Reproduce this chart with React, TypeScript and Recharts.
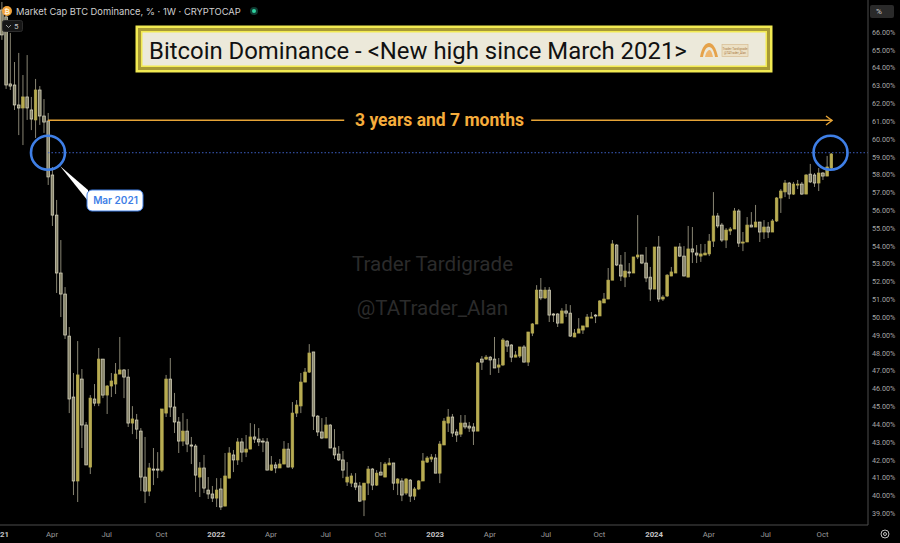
import React from "react";
import { ComposedChart, Bar, XAxis, YAxis, ReferenceLine, ReferenceDot } from "recharts";

// Weekly candles: [high, bodyTop, bodyBottom, low, rising(1) / falling(0)]
const weeks2021 = [
[67.7,67.25,65.85,65.57,0],[67.14,66.86,63.04,62.82,0],[65.96,63.1,62.98,62.76,0],[64.33,63.04,61.92,61.64,0],[64.84,61.92,61.75,60.23,0],
[63.6,62.37,61.75,59.67,1],[64.72,62.37,61.75,61.08,0],[62.37,61.64,61.13,60.51,0],[63.38,62.76,61.08,60.07,1],[62.98,62.76,61.3,60.8,0],
[62.25,61.3,60.96,60.35,0],[61.47,61.02,57.88,57.43,0],[58.44,57.99,55.74,55.13,0],[56.59,55.74,52.49,51.37,0],[54.34,52.49,51.31,50.02,0],
[51.7,51.31,49.01,48.79,0],[49.46,48.95,45.42,44.63,0],[46.88,45.53,40.82,40.03,0],[48.67,46.77,40.82,39.64,1],[47.1,46.54,43.96,42.67,0],
[44.13,43.96,41.72,41.72,0],[45.64,45.47,41.6,41.21,1],[46.26,45.42,45.19,45.02,0],[48.28,47.66,45.19,45.02,1],[47.66,47.66,45.64,45.47,0],
[46.2,46.15,45.64,44.58,1],[46.88,46.43,46.15,45.53,1],[47.44,46.82,46.26,45.7,1],[48.9,47.05,46.82,46.82,1],[47.1,47.05,46.65,45.47,0],
[47.1,46.65,44.07,43.85,0],[45.02,44.3,44.07,43.45,1],[44.58,44.24,43.73,43.17,0],[43.79,43.62,41.04,40.25,0],[43.29,41.04,40.25,39.58,0],
[41.83,41.55,40.25,39.97,1],[42.67,41.49,41.43,40.59,0],[42.44,41.49,41.43,40.98,0],[44.86,44.86,41.43,41.32,1],[46.77,46.54,44.63,44.41,1],
[47.72,46.54,44.97,44.41,0],[45.76,44.97,44.13,43.51,0],[44.41,44.13,43.06,42.39,0],[44.63,43.62,43.06,42.78,1],[44.3,43.62,42.89,42.44,0],
[43.29,42.84,42.78,41.77,0],[42.89,42.78,41.15,40.2,0],[41.88,41.55,41.04,39.92,1],[42.28,41.55,40.42,40.14,0],[41.04,40.31,40.09,39.81,0],
[40.54,40.09,39.86,39.64,0],
];
const weeks2022 = [
[40.98,40.31,39.86,39.36,1],[40.98,40.37,39.36,39.19,0],[42.39,41.1,39.41,39.41,1],[42.72,42.39,40.98,40.98,1],[42.56,42.28,42.0,41.32,0],
[43.23,43.01,42.0,41.72,1],[43.23,43.01,42.44,41.88,0],[43.4,42.61,42.44,42.16,1],[44.07,43.29,42.61,42.61,1],[44.01,43.29,43.17,42.95,0],
[43.79,43.17,43.01,42.78,0],[43.23,43.06,43.01,42.44,0],[43.23,43.01,41.43,41.43,0],[42.22,41.72,41.43,41.38,1],[41.88,41.72,41.55,41.26,0],
[42.05,41.77,41.55,41.55,1],[43.06,42.61,41.77,41.77,1],[42.95,42.61,41.6,41.6,0],[45.25,44.63,41.6,41.49,1],[45.36,45.08,44.63,44.41,1],
[46.88,46.37,45.03,44.63,1],[47.16,46.93,46.37,46.37,1],[48.5,48.0,46.93,46.88,1],[48.06,48.06,44.46,43.68,0],[44.52,44.46,43.57,43.34,0],
[44.35,43.57,43.23,43.17,0],[44.41,43.96,43.23,43.23,1],[44.01,43.96,42.67,42.67,0],[43.73,42.67,42.28,42.05,0],[42.78,42.33,42.0,41.94,0],
[42.5,42.0,41.43,40.98,0],[41.88,41.04,40.76,40.54,1],[41.26,41.1,40.7,40.48,1],[41.26,40.7,40.48,40.31,0],[40.76,40.54,39.69,39.64,0],
[40.7,40.7,39.75,38.85,1],[41.66,41.49,40.7,40.03,1],[41.55,41.49,40.59,40.31,0],[41.43,41.26,40.59,40.54,1],[41.88,41.32,41.15,41.15,0],
[41.88,41.77,41.04,41.04,1],[42.11,41.83,41.72,41.72,1],[41.83,41.83,40.7,40.31,0],[40.98,40.93,40.7,40.03,1],[40.98,40.82,40.03,39.69,0],
[40.98,40.93,40.14,40.03,1],[40.93,40.87,39.97,39.64,0],[40.48,40.37,39.97,39.75,1],[40.87,40.82,40.37,40.31,1],[42.39,41.94,40.82,40.82,1],
[42.22,42.11,41.88,41.83,1],[42.33,42.16,42.05,41.88,1],
];
const weeks2023 = [
[42.33,42.11,41.26,41.26,0],[43.06,42.89,41.26,40.7,1],[44.35,44.18,42.84,42.84,1],[44.86,44.41,44.07,43.57,1],[44.58,44.41,43.51,43.29,0],
[43.73,43.57,43.4,43.01,0],[44.52,44.07,43.45,43.29,1],[44.52,44.07,43.85,43.73,0],[44.13,43.9,43.79,43.57,0],[44.07,43.85,43.62,42.84,0],
[47.49,47.44,43.62,43.62,1],[47.83,47.66,47.49,47.05,0],[47.89,47.77,47.66,47.61,1],[47.83,47.77,47.61,46.77,0],[48.9,47.66,47.16,47.16,0],
[47.72,47.33,47.21,46.88,1],[48.84,48.73,47.33,47.27,1],[48.73,48.67,48.39,48.06,0],[48.5,48.45,47.77,47.49,0],[48.11,47.89,47.77,47.77,1],
[48.34,48.34,47.83,47.72,1],[48.45,48.34,47.49,47.49,0],[49.18,49.18,47.49,47.27,1],[49.68,49.63,49.12,48.95,1],[51.81,51.53,49.63,49.63,1],
[52.21,51.53,51.09,50.97,0],[51.7,51.53,51.09,51.03,1],[51.7,51.53,50.13,49.74,0],[50.24,50.19,50.13,49.74,0],[50.24,50.19,49.68,49.46,0],
[50.52,50.36,49.68,49.68,1],[50.75,50.36,50.24,50.02,0],[50.69,50.24,48.95,48.9,0],[49.35,49.12,48.9,48.9,1],[49.96,49.35,49.12,49.12,1],
[49.52,49.52,49.29,49.07,1],[50.19,50.02,49.46,49.46,1],[50.3,50.02,49.96,49.96,1],[50.19,50.13,50.08,49.68,0],[50.97,50.92,50.08,50.08,1],
[51.37,51.03,50.81,50.81,1],[52.77,52.09,51.03,51.03,1],[54.34,54.12,52.09,52.09,1],[54.12,54.06,52.94,52.88,0],[53.5,52.94,52.32,52.04,0],
[53.67,52.6,52.26,51.7,1],[53.05,52.55,52.49,52.26,0],[53.39,53.39,52.49,52.49,1],[55.74,53.5,53.39,53.27,1],[53.5,53.5,53.05,52.99,0],
[53.95,53.05,52.21,51.98,0],[52.83,52.26,51.59,50.92,0],
];
const weeks2024 = [
[53.95,53.95,51.59,51.59,1],[54.57,53.95,51.03,50.86,0],[51.25,51.14,51.03,50.92,1],[52.43,52.37,51.2,51.14,1],[52.83,52.55,52.32,52.32,1],
[53.95,53.95,52.49,52.49,1],[54.17,53.95,53.44,53.39,0],[54.0,53.44,52.32,52.32,0],[55.13,53.84,52.26,52.26,1],[55.07,53.84,53.67,53.05,0],
[54.06,53.61,53.5,53.05,0],[54.12,53.56,53.44,53.11,1],[54.12,53.61,53.5,53.5,1],[54.68,54.28,53.56,53.44,1],[57.03,55.69,54.28,53.95,1],
[55.86,55.69,55.13,55.01,0],[55.3,55.18,54.34,54.23,0],[55.01,54.9,54.34,53.89,1],[55.07,54.96,54.85,54.62,1],[56.14,55.97,54.96,54.96,1],
[56.08,55.97,54.17,53.95,0],[54.79,54.23,54.17,53.72,1],[55.63,55.18,54.23,54.23,1],[55.91,55.18,55.07,55.07,0],[56.31,55.35,55.07,55.07,1],
[55.35,55.35,54.79,54.23,0],[55.46,55.07,54.79,54.4,1],[55.35,55.07,54.79,54.45,0],[55.52,55.41,54.79,54.79,1],[56.75,56.7,55.41,55.35,1],
[57.2,57.09,56.7,55.86,1],[57.71,57.54,57.04,56.75,1],[57.6,57.54,56.92,56.64,0],[57.6,57.48,56.92,56.87,1],[57.71,57.48,57.43,57.2,1],
[57.6,57.48,56.92,56.87,0],[58.04,57.99,56.92,56.92,1],[58.61,58.04,57.6,57.54,0],[58.1,57.99,57.54,57.32,0],[58.38,58.1,57.54,57.09,1],
[58.16,58.1,57.93,57.71,0],[59.06,58.44,57.93,57.93,1],[59.22,59.17,58.38,58.27,1],
];

const tickIndexes = [-0.356, 12, 25, 38, 51, 64, 77, 90, 103, 116, 129.3, 142, 155, 168, 181.5, 195];
const tickLabels = ["2021", "Apr", "Jul", "Oct", "2022", "Apr", "Jul", "Oct", "2023", "Apr", "Jul", "Oct", "2024", "Apr", "Jul", "Oct"];
const percentTicks = [39,40,41,42,43,44,45,46,47,48,49,50,51,52,53,54,55,56,57,58,59,60,61,62,63,64,65,66];

const prevHighLevel = 59.24;
const arrowLevel = 61.06;
const startWeek = 11.04;
const endWeek = 196.9;
const gapStartWeek = 81.4;
const gapEndWeek = 125.8;
const arrowEndWeek = 197.3;

const data = [...weeks2021, ...weeks2022, ...weeks2023, ...weeks2024].map((w, i) => ({
  week: i,
  high: w[0],
  bodyTop: w[1],
  bodyBottom: w[2],
  low: w[3],
  rising: w[4] === 1,
}));

const UI = "Roboto, sans-serif";

function Candle(props: any) {
  const { x, y, width, height, payload } = props;
  const span = payload.high - payload.low || 1;
  const toY = (v: number) => y + ((payload.high - v) / span) * height;
  const cx = x + width / 2;
  const top = toY(payload.bodyTop);
  const bottom = toY(payload.bodyBottom);
  const h = Math.max(bottom - top, 1);
  return (
    <g>
      <line x1={cx} x2={cx} y1={y} y2={y + height} stroke="#979480" strokeWidth={0.9} />
      <rect
        x={cx - 1.3}
        y={top}
        width={2.6}
        height={h}
        fill={payload.rising ? "#b8ac52" : "#86836a"}
        stroke={payload.rising ? "#b8ac52" : "#dedbc4"}
        strokeWidth={0.7}
      />
    </g>
  );
}

function DateTick(props: any) {
  const { x, index } = props;
  const label = tickLabels[index] ?? "";
  const isYear = label.length === 4;
  return (
    <text x={x} y={537} textAnchor="middle" fontFamily={UI} fontSize={7.8} fontWeight={isYear ? 700 : 400} fill={isYear ? "#c4c4c4" : "#9a9a9a"}>
      {label}
    </text>
  );
}

export default function App() {
  return (
    <div style={{ position: "absolute", left: 0, top: 0, width: 900, height: 543, background: "#000", overflow: "hidden" }}>
      <div style={{ position: "absolute", left: 0, width: 868, top: 254, textAlign: "center", color: "#2b2b2b", fontFamily: "Roboto, sans-serif", fontSize: 20.6, lineHeight: "21px", transform: "translateX(-1.5px)" }}>Trader Tardigrade</div>
      <div style={{ position: "absolute", left: 0, width: 868, top: 298, textAlign: "center", color: "#2b2b2b", fontFamily: "Roboto, sans-serif", fontSize: 20.6, lineHeight: "21px", transform: "translateX(-1.5px)" }}>@TATrader_Alan</div>
      <div style={{ position: "absolute", left: 0, top: 0 }}>
        <ComposedChart width={900} height={543} data={data} margin={{ top: 0, right: 0, bottom: 0, left: 0 }} style={{ background: "transparent" }}>
          <XAxis
            dataKey="week"
            type="number"
            domain={[-0.356, 205.8]}
            allowDataOverflow
            ticks={tickIndexes}
            interval={0}
            height={18}
            tick={<DateTick />}
            tickLine={false}
            axisLine={{ stroke: "#4d4d4d" }}
          />
          <YAxis
            orientation="right"
            type="number"
            domain={[38.35, 67.81]}
            allowDataOverflow
            ticks={percentTicks}
            interval={0}
            width={32}
            tickLine={false}
            axisLine={{ stroke: "#4d4d4d" }}
            tickSize={4}
            tickMargin={0}
            tick={{ fill: "#a6a6a6", fontSize: 7.2, fontFamily: UI }}
            tickFormatter={(v: number) => `${v.toFixed(2)}%`}
          />
          <Bar dataKey={(d: any) => [d.low, d.high]} barSize={3} isAnimationActive={false} shape={<Candle />} />
          <ReferenceLine
            segment={[{ x: startWeek, y: prevHighLevel }, { x: 205.8, y: prevHighLevel }]}
            stroke="#3d5fc4"
            strokeWidth={1}
            strokeDasharray="1.5 2"
          />
          <ReferenceLine segment={[{ x: startWeek, y: arrowLevel }, { x: gapStartWeek, y: arrowLevel }]} stroke="#e6a437" strokeWidth={1.4} />
          <ReferenceLine segment={[{ x: gapEndWeek, y: arrowLevel }, { x: arrowEndWeek, y: arrowLevel }]} stroke="#e6a437" strokeWidth={1.4} />
          <ReferenceDot x={startWeek} y={prevHighLevel} r={17} fill="none" stroke="#3f7fe6" strokeWidth={2.6} />
          <ReferenceDot x={endWeek} y={prevHighLevel} r={17} fill="none" stroke="#3f7fe6" strokeWidth={2.6} />
        </ComposedChart>
      </div>

      <svg width={900} height={543} style={{ position: "absolute", left: 0, top: 0, pointerEvents: "none" }}>
        {/* legend */}
        <circle cx={7} cy={11} r={5} fill="#f0a23a" />
        <text x={7} y={13.5} textAnchor="middle" fontFamily={UI} fontSize={7} fontWeight={700} fill="#fff3d8">₿</text>
        <text x={16} y={14.5} fontFamily="Inter, Roboto, sans-serif" fontSize={9.35} fill="#cfcfcf">Market Cap BTC Dominance, % · 1W · CRYPTOCAP</text>
        <circle cx={254} cy={11} r={4} fill="#0f3b32" />
        <circle cx={254} cy={11} r={2} fill="#2fd3a0" />
        <rect x={2.5} y={20.5} width={20} height={11} rx={2} fill="#161616" stroke="#2c2c2c" />
        <path d="M6 25 L8.5 27.5 L11 25" fill="none" stroke="#bdbdbd" strokeWidth={0.8} />
        <text x={14} y={29} fontFamily={UI} fontSize={8} fill="#c4c4c4">5</text>

        {/* title */}
        <rect x={135.5} y={25.5} width={637} height={47} fill="#f2ea52" />
        <rect x={138} y={28} width={632} height={42} fill="#a89a34" />
        <rect x={141} y={31} width={626} height={36} fill="#f2ea52" />
        <rect x={142.5} y={32.5} width={623} height={33} fill="#ece9da" />
        <text x={149} y={59} fontFamily="Roboto, sans-serif" fontSize={23.9} fill="#111">{"Bitcoin Dominance - <New high since March 2021>"}</text>
        <path d="M700 57 C702 46 706 43 709 43 C713 43 716 48 718 57 L715 57 C714 51 712 47 709 47 C706 47 704 51 703 57 Z" fill="#e5a24a" />
        <path d="M705 57 C706 52 708 50 709.5 50 C711 50 712 53 713 57 Z" fill="#efb56b" />
        <rect x={722} y={44.5} width={26} height={12} fill="#ece0c4" stroke="#d8bd92" strokeWidth={0.7} />
        <text x={735} y={49.5} textAnchor="middle" fontFamily={UI} fontSize={3.2} fill="#a87a45">Trader Tardigrade</text>
        <text x={735} y={53.5} textAnchor="middle" fontFamily={UI} fontSize={3} fill="#a87a45">@TATrader_Alan</text>

        {/* arrow */}
        <path d="M826 116 L832 120.5 L826 125" fill="none" stroke="#e6a437" strokeWidth={1.4} />
        <text x={439.5} y={126} textAnchor="middle" fontFamily="Roboto, sans-serif" fontWeight={700} fontSize={17.5} fill="#f6ad3c">3 years and 7 months</text>

        {/* callout */}
        <polygon points="60,166 88,190 88,201" fill="#fff" />
        <rect x={87} y={190} width={56} height={21} rx={5} fill="#fff" stroke="#3f7fe6" strokeWidth={1} />
        <text x={115.5} y={204} textAnchor="middle" fontFamily="Inter, Roboto, sans-serif" fontWeight={600} fontSize={10} fill="#3f7fe6">Mar 2021</text>

        {/* scale controls */}
        <rect x={870} y={5} width={24} height={13} rx={2} fill="#2a2a2a" />
        <text x={876} y={14} fontFamily={UI} fontSize={8} fill="#cfcfcf">%</text>
        <circle cx={885} cy={534} r={4} fill="none" stroke="#bdbdbd" strokeWidth={1} />
        <circle cx={885} cy={534} r={1.5} fill="none" stroke="#bdbdbd" strokeWidth={1} />
      </svg>
    </div>
  );
}
